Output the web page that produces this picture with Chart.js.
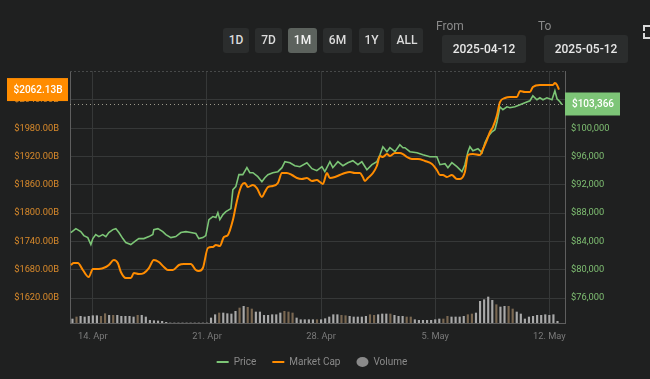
<!DOCTYPE html>
<html><head><meta charset="utf-8">
<script src="https://cdn.jsdelivr.net/npm/chart.js@4/dist/chart.umd.min.js"></script>
<style>
html,body{margin:0;padding:0;background:#1f2020;width:650px;height:379px;overflow:hidden;font-family:Roboto,"Liberation Sans",Arial,sans-serif;}
#wrap{position:absolute;left:0;top:0;width:650px;height:379px;}
canvas{position:absolute;left:0;top:0;}
.btn{position:absolute;top:28px;height:25px;line-height:25px;background:#2b2d2d;border-radius:3px;color:#dcdcdc;font-size:12px;font-weight:500;text-align:center;}
.btn.on{background:#5c625d;color:#f2f2f2;}
.lbl{position:absolute;top:19px;font-size:12px;color:#8a8a8a;}
.date{position:absolute;top:35px;height:28px;line-height:28px;width:84px;background:#2b2d2d;border-radius:3px;color:#e8e8e8;font-size:12px;font-weight:500;text-align:center;}
.fs{position:absolute;left:643px;width:5px;height:4px;border-color:#d8d8d8;border-style:solid;border-width:0;}
</style></head>
<body>
<div id="wrap">
<canvas id="c" width="650" height="379"></canvas>
<div class="btn" style="left:223px;width:26px">1D</div>
<div class="btn" style="left:255px;width:27px">7D</div>
<div class="btn on" style="left:288px;width:29px">1M</div>
<div class="btn" style="left:323px;width:29px">6M</div>
<div class="btn" style="left:359px;width:25px">1Y</div>
<div class="btn" style="left:391px;width:32px">ALL</div>
<div class="lbl" style="left:436px">From</div>
<div class="date" style="left:442px">2025-04-12</div>
<div class="lbl" style="left:538px">To</div>
<div class="date" style="left:544px">2025-05-12</div>
<div class="fs" style="top:25px;border-top-width:2px;border-left-width:2px"></div>
<div class="fs" style="top:33px;border-bottom-width:2px;border-left-width:2px"></div>
</div>
<script>
// x values are days since 2025-04-12 00:00
const xTickDays = [2, 9, 16, 23, 30];
const xTickLabels = ['14. Apr', '21. Apr', '28. Apr', '5. May', '12. May'];
const capTicks = [1620, 1680, 1740, 1800, 1860, 1920, 1980, 2040];
const priceTicks = [76000, 80000, 84000, 88000, 92000, 96000, 100000];

const priceDays = [0.65,0.96,1.26,1.45,1.69,1.88,2.0,2.18,2.37,2.61,
2.80,2.98,3.23,3.41,3.60,3.84,4.02,4.33,4.64,4.82,
5.13,5.44,5.68,5.74,5.99,6.29,6.48,6.79,7.09,7.40,
7.71,8.01,8.32,8.50,8.75,8.93,9.12,9.36,9.55,9.67,
9.79,9.98,10.16,10.47,10.59,10.77,10.96,11.20,11.45,11.63,
11.82,12.12,12.37,12.55,12.74,13.04,13.35,13.60,13.78,14.09,
14.39,14.70,15.13,15.44,15.74,16.05,16.23,16.54,16.72,17.03,
17.34,17.64,17.95,18.26,18.50,18.81,19.12,19.42,19.61,19.79,
20.04,20.22,20.53,20.83,21.02,21.14,21.45,21.88,22.25,22.67,
23.10,23.29,23.60,23.78,24.02,24.33,24.64,24.82,25.01,25.13,
25.31,25.62,25.87,26.05,26.23,26.48,26.66,26.79,26.97,27.15,
27.40,27.58,27.89,28.20,28.50,28.81,28.99,29.24,29.42,29.61,
29.85,30.16,30.34,30.47,30.65,30.77];
const priceValues = [85250,85810,85390,84825,84540,83550,84400,84970,84680,84970,
84680,85250,85670,85810,85250,84400,83840,83550,84120,84400,
84400,84680,84970,85670,85810,85390,84970,84540,84680,85250,
85390,85250,85110,84400,84540,84825,87080,87510,87370,88070,
87080,87790,88210,88640,91320,91740,93440,93440,94430,93720,
93720,93160,92450,93010,93440,93720,93860,94430,95270,95130,
94710,94570,95130,94290,94000,94570,93860,95270,94430,95270,
94710,95130,95420,94850,95270,94140,94850,95270,96260,97390,
96690,97250,96690,97670,97250,97250,96690,96550,96260,95980,
95980,94850,94990,94430,95130,94570,93860,94850,96690,97390,
96830,97110,96550,97960,98800,99510,99790,100920,103040,102620,
103040,102900,103040,103320,103600,103890,104590,104030,104310,104030,
104310,104030,105300,104170,103750,103366];

const capDays = [0.65,0.83,1.08,1.39,1.75,2.0,2.37,2.80,2.98,3.29,
3.53,3.72,4.02,4.33,4.52,4.82,5.13,5.44,5.74,6.05,
6.36,6.60,6.91,7.28,7.58,8.01,8.32,8.50,8.75,9.06,
9.36,9.55,9.79,10.04,10.28,10.59,10.77,10.96,11.14,11.33,
11.51,11.82,12.06,12.37,12.55,12.74,13.04,13.35,13.60,13.90,
14.21,14.52,14.82,15.13,15.44,15.74,15.93,16.11,16.36,16.54,
16.85,17.15,17.46,17.77,18.07,18.38,18.56,18.69,18.87,19.18,
19.42,19.61,19.79,20.04,20.22,20.53,20.83,21.02,21.26,21.57,
21.94,22.37,22.80,23.10,23.29,23.47,23.72,24.02,24.33,24.52,
24.82,25.01,25.31,25.74,25.93,26.17,26.36,26.54,26.79,26.97,
27.28,27.58,28.01,28.20,28.50,28.81,28.99,29.42,29.85,30.22,
30.34,30.47,30.59];
const capValues = [1690.0,1694.2,1694.2,1679.4,1664.5,1681.5,1681.5,1685.8,1690.0,1700.6,
1694.2,1675.1,1662.4,1662.4,1673.0,1670.9,1673.0,1683.6,1700.6,1696.4,
1685.8,1679.4,1679.4,1690.0,1692.1,1692.1,1679.4,1677.3,1683.6,1726.1,
1728.2,1732.4,1730.3,1749.4,1753.6,1785.4,1815.1,1842.7,1859.7,1863.9,
1855.4,1859.7,1853.3,1834.2,1844.8,1855.4,1857.6,1863.9,1885.1,1885.1,
1880.9,1874.5,1872.4,1874.5,1868.2,1870.3,1866.0,1861.8,1885.1,1874.5,
1876.6,1880.9,1885.1,1887.2,1885.1,1885.1,1876.6,1868.2,1874.5,1885.1,
1900.0,1921.2,1919.1,1925.4,1921.2,1927.5,1927.5,1925.4,1919.1,1914.8,
1914.8,1910.6,1904.2,1891.5,1880.9,1880.9,1876.6,1880.9,1872.4,1872.4,
1887.2,1923.3,1925.4,1923.3,1936.0,1955.1,1972.1,1982.7,2008.1,2035.7,
2044.2,2046.3,2046.3,2059.0,2056.9,2056.9,2067.5,2071.8,2071.8,2071.8,
2076.0,2071.8,2062.13];

// volume bars every 6 hours starting at day 0.75 (billions USD)
const volumeStartDay = 0.75;
const volumeStepDays = 0.25;
const volumeValues = [8,12,13.4,12,13.4,14.6,14.6,13.4,18.6,15.4,
15.4,15.4,13.4,13.4,13.4,12,15.4,15.4,12,5.4,
4.6,4,3.4,1.4,0,0,0,0,0,0,
0,0,0,0,10,16.6,20,20,18.6,18,
23.4,30,33.4,31.4,28,22,22,15.4,15.4,16.6,
16.6,20,23.4,22,20,10,6.6,6.6,6.6,6.6,
6.6,6.6,8.6,12,16.6,16.6,15.4,14.6,13.4,12,
12,12,13.4,16.6,15.4,16.6,18,18,18,15.4,
13.4,13.4,12,12,6.6,5.4,5.4,5.4,5.4,6.6,
8,8,13.4,12,12,12,13.4,16.6,18,20,
43.4,46.6,52,45.4,36.6,32,33.4,33.4,28,22,
18,8,12,13.4,15.4,15.4,16.6,15.4,16.6,3.4];
const volumeDown = [0,1,0,0,0,0,0,1,1,0,
1,0,0,0,0,0,1,0,0,0,
0,0,0,0,0,0,0,0,0,0,
0,0,0,0,0,0,1,0,0,0,
0,1,0,1,1,0,0,0,0,0,
0,0,1,1,1,0,0,0,0,0,
1,0,0,0,0,0,1,1,0,0,
0,0,0,1,1,0,0,0,1,0,
0,0,1,1,0,0,0,0,0,0,
0,1,1,0,0,0,0,1,1,0,
0,0,0,0,1,0,0,1,1,0,
0,0,0,0,0,0,0,0,0,0];

const FONT = 'Roboto, "Liberation Sans", Arial, sans-serif';
Chart.defaults.font.family = FONT;
const gridColor = '#363838';

const lastPrice = priceValues[priceValues.length - 1];
const lastCap = capValues[capValues.length - 1];

const valueTags = {
  id: 'valueTags',
  afterLayout(chart) {
    // the legend sits centred a little left of the canvas centre
    if (chart.legend) { chart.legend.left -= 13; chart.legend.right -= 13; }
  },
  afterDatasetsDraw(chart) {
    const {ctx, chartArea: a, scales} = chart;
    ctx.save();
    ctx.strokeStyle = '#474949';
    ctx.lineWidth = 1;
    ctx.setLineDash([2, 2]);
    ctx.beginPath(); ctx.moveTo(a.left, a.top + 0.5); ctx.lineTo(a.right, a.top + 0.5); ctx.stroke();
    const py = Math.round(scales.yPrice.getPixelForValue(lastPrice));
    ctx.strokeStyle = '#9c9a8c';
    ctx.setLineDash([1, 3]);
    ctx.beginPath(); ctx.moveTo(a.left, py + 0.5); ctx.lineTo(a.right, py + 0.5); ctx.stroke();
    ctx.setLineDash([]);
    const cy = scales.yCap.getPixelForValue(lastCap);
    ctx.fillStyle = '#ff8c00';
    ctx.fillRect(7, cy - 11.5, 61, 23);
    ctx.fillStyle = '#7dc577';
    ctx.fillRect(565, py - 11.5, 55, 23);
    ctx.fillStyle = '#ffffff';
    ctx.font = '500 10px ' + FONT;
    ctx.textAlign = 'center';
    ctx.textBaseline = 'middle';
    ctx.fillText('$' + lastCap.toFixed(2) + 'B', 38, cy + 0.5);
    ctx.fillText('$' + lastPrice.toLocaleString('en-US'), 593, py + 0.5);
    ctx.restore();
  }
};

new Chart(document.getElementById('c'), {
  type: 'line',
  data: {
    datasets: [
      {
        label: 'Price', yAxisID: 'yPrice',
        data: priceDays.map((d, i) => ({x: d, y: priceValues[i]})),
        borderColor: '#7cc576', backgroundColor: '#7cc576', borderWidth: 1.6,
        pointRadius: 0, tension: 0, order: 2
      },
      {
        label: 'Market Cap', yAxisID: 'yCap',
        data: capDays.map((d, i) => ({x: d, y: capValues[i]})),
        borderColor: '#ff8c00', backgroundColor: '#ff8c00', borderWidth: 2,
        pointRadius: 0, cubicInterpolationMode: 'monotone', order: 1
      },
      {
        type: 'bar', label: 'Volume', yAxisID: 'yVol',
        data: volumeValues.map((v, i) => ({x: volumeStartDay + i * volumeStepDays, y: v})),
        backgroundColor: volumeDown.map(f => f ? '#7a6852' : '#a9a9a9'),
        barThickness: 1.5, order: 3
      }
    ]
  },
  options: {
    responsive: false, animation: false,
    layout: {padding: {top: 71, bottom: 2, left: 0, right: 0}},
    plugins: {
      tooltip: {enabled: false},
      legend: {
        position: 'bottom',
        labels: {
          color: '#8a8a8a', font: {size: 10}, usePointStyle: true,
          pointStyleWidth: 12, boxHeight: 7, padding: 16,
          generateLabels(chart) {
            const items = Chart.defaults.plugins.legend.labels.generateLabels(chart);
            items.sort((p, q) => p.datasetIndex - q.datasetIndex);
            items.forEach(it => {
              if (it.datasetIndex === 2) {
                it.pointStyle = 'circle'; it.fillStyle = '#8a8a8a'; it.strokeStyle = '#8a8a8a'; it.lineWidth = 0;
              } else {
                it.pointStyle = 'line'; it.lineWidth = 2;
              }
            });
            return items;
          }
        }
      }
    },
    scales: {
      x: {
        type: 'linear', min: 0.6, max: 30.96, offset: false,
        afterBuildTicks: s => { s.ticks = xTickDays.map(v => ({value: v})); },
        afterFit: s => { s.height = 18; },
        ticks: {color: '#7a7a7a', font: {size: 9.3}, padding: 8, maxRotation: 0, autoSkip: false,
          callback: (v, i) => xTickLabels[i]},
        grid: {color: gridColor, drawTicks: false, offset: false},
        border: {color: '#5e5e5e'}
      },
      yCap: {
        position: 'left', min: 1567, max: 2101.5,
        afterBuildTicks: s => { s.ticks = capTicks.map(v => ({value: v})); },
        afterFit: s => { s.width = 70; },
        ticks: {color: '#d98a2b', font: {size: 9.3}, padding: 11, autoSkip: false,
          callback: v => '$' + v.toFixed(2) + 'B'},
        grid: {color: gridColor, drawTicks: false},
        border: {color: '#5e5e5e'}
      },
      yPrice: {
        position: 'right', min: 72465, max: 108098,
        afterBuildTicks: s => { s.ticks = priceTicks.map(v => ({value: v})); },
        afterFit: s => { s.width = 85; },
        ticks: {color: '#7fbf72', font: {size: 9.3}, padding: 6, autoSkip: false,
          callback: v => '$' + v.toLocaleString('en-US')},
        grid: {display: false, drawTicks: false},
        border: {color: '#5e5e5e'}
      },
      yVol: {display: false, min: 0, max: 504}
    }
  },
  plugins: [valueTags]
});
</script>
</body></html>
